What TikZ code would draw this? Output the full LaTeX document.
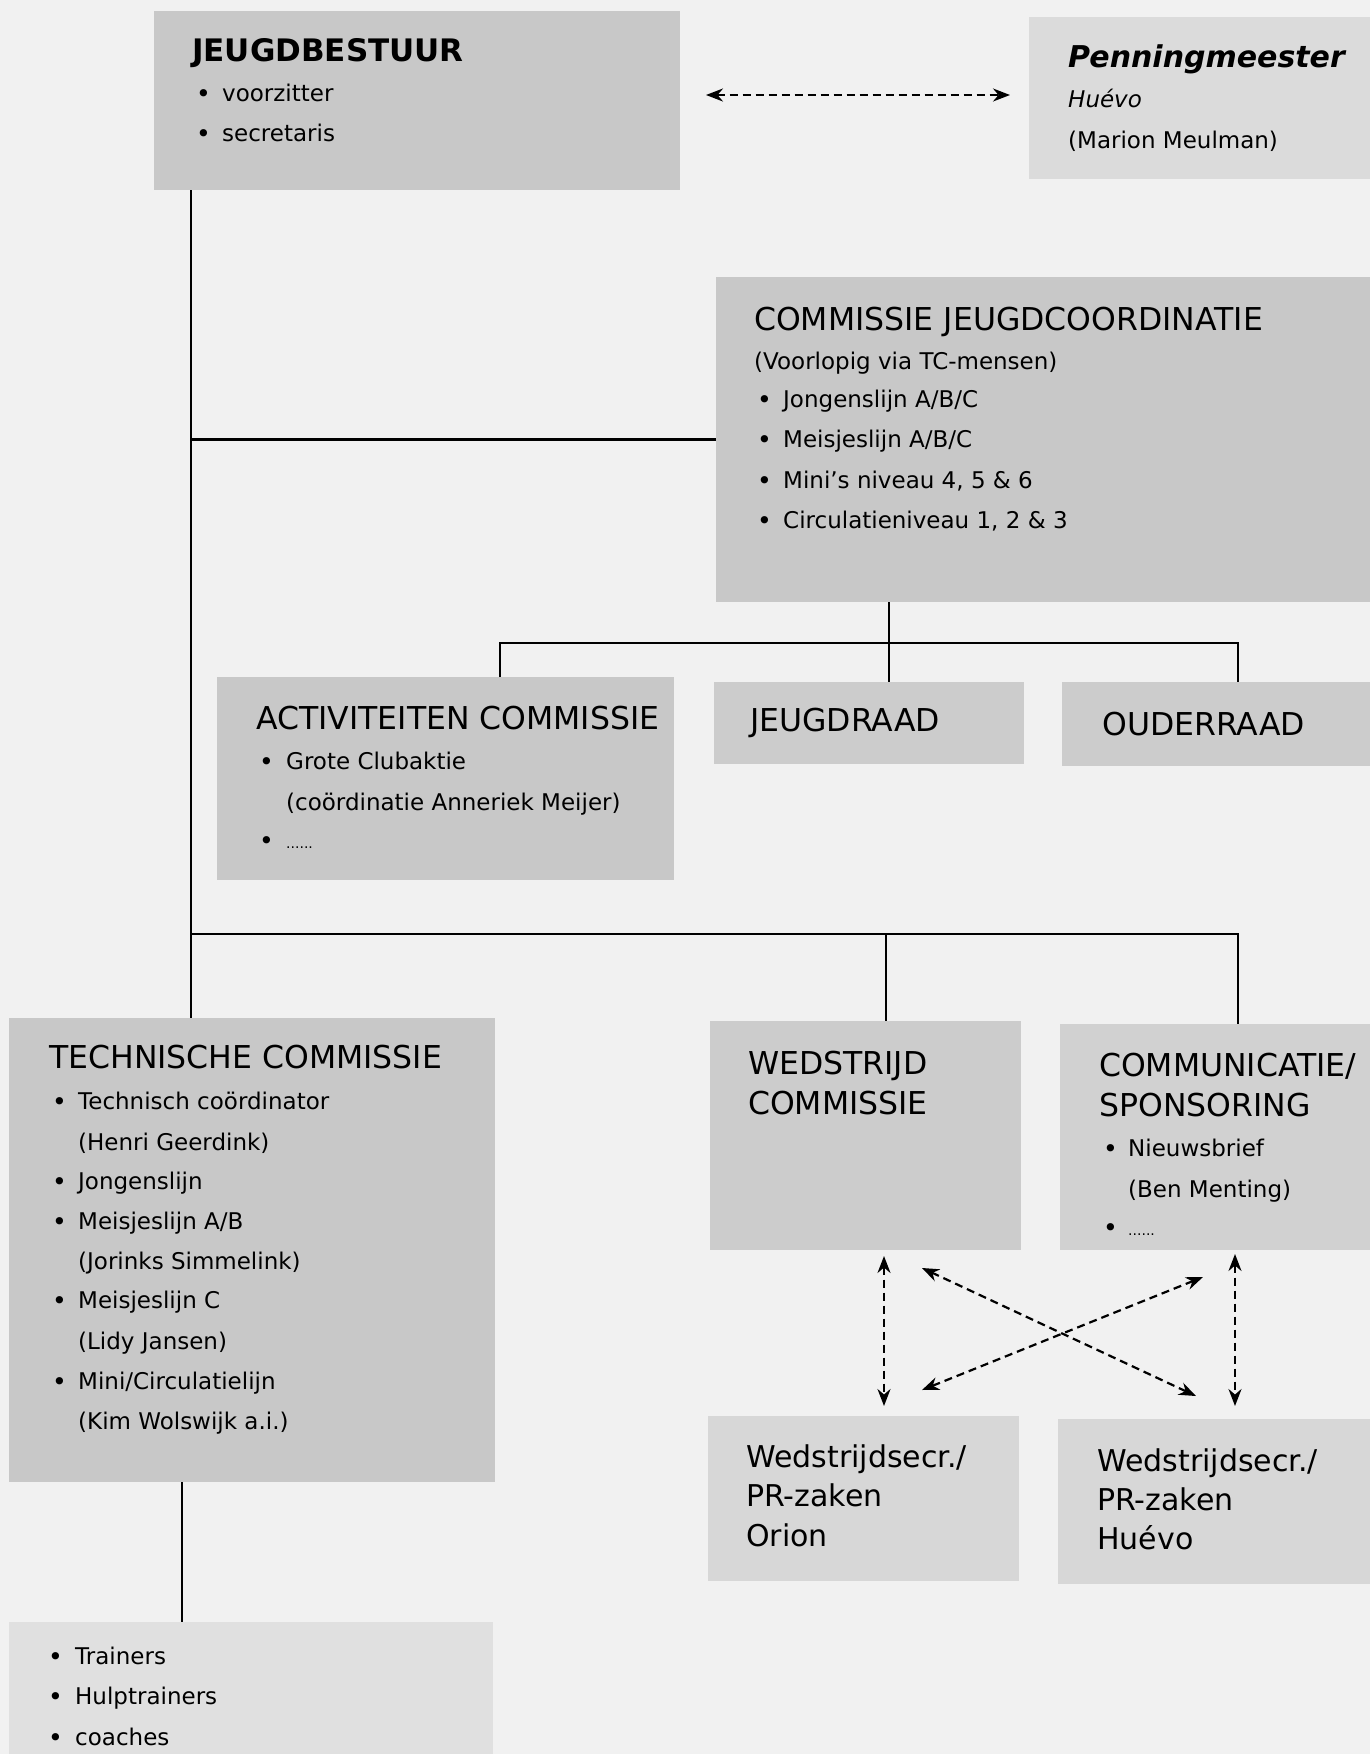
\documentclass[tikz,border=0pt]{standalone}
\usepackage{fontspec}
\setmainfont{DejaVu Sans}
\usetikzlibrary{arrows.meta}
\definecolor{bgc}{gray}{0.945}
\definecolor{gA}{gray}{0.785}
\definecolor{gB}{gray}{0.86}
\definecolor{gC}{gray}{0.80}
\definecolor{gD}{gray}{0.82}
\definecolor{gE}{gray}{0.845}
\definecolor{gF}{gray}{0.88}
\newcommand\itm[1][26pt]{\makebox[#1][l]{\raisebox{-1.5pt}{\fontsize{25}{27}\selectfont •}}}
\begin{document}
\begin{tikzpicture}[x=1pt,y=-1pt,
  box/.style={anchor=north west, inner sep=0pt, outer sep=0pt, draw=none},
  ttl/.style={anchor=base west, inner sep=0pt, font=\fontsize{31.5}{38}\selectfont},
  ttlb/.style={anchor=base west, inner sep=0pt, font=\fontsize{31}{38}\selectfont\bfseries},
  ttlbi/.style={anchor=base west, inner sep=0pt, font=\fontsize{30}{38}\selectfont\bfseries\itshape},
  txt/.style={anchor=base west, inner sep=0pt, font=\fontsize{23}{27}\selectfont},
  txti/.style={anchor=base west, inner sep=0pt, font=\fontsize{23}{27}\selectfont\itshape},
  big/.style={anchor=base west, inner sep=0pt, font=\fontsize{30}{36}\selectfont},
  conn/.style={line width=2.6pt, black},
  dashar/.style={line width=2.2pt, black, dash pattern=on 8pt off 5pt,
     {Stealth[length=17pt,width=13pt]}-{Stealth[length=17pt,width=13pt]}}
]
\useasboundingbox (0,0) rectangle (1370,1754);
\fill[bgc] (0,0) rectangle (1370,1754);

% boxes
\node[box, fill=gA, minimum width=526pt, minimum height=179pt] (jb) at (154,11) {};
\node[box, fill=gB, minimum width=341pt, minimum height=162pt] (pm) at (1029,17) {};
\node[box, fill=gA, minimum width=654pt, minimum height=325pt] (cj) at (716,277) {};
\node[box, fill=gA, minimum width=457pt, minimum height=203pt] (ac) at (217,677) {};
\node[box, fill=gC, minimum width=310pt, minimum height=82pt] (jr) at (714,682) {};
\node[box, fill=gC, minimum width=308pt, minimum height=84pt] (or) at (1062,682) {};
\node[box, fill=gA, minimum width=486pt, minimum height=464pt] (tc) at (9,1018) {};
\node[box, fill=gC, minimum width=311pt, minimum height=229pt] (wc) at (710,1021) {};
\node[box, fill=gD, minimum width=310pt, minimum height=226pt] (cs) at (1060,1024) {};
\node[box, fill=gE, minimum width=311pt, minimum height=165pt] (wo) at (708,1416) {};
\node[box, fill=gE, minimum width=312pt, minimum height=165pt] (wh) at (1058,1419) {};
\node[box, fill=gF, minimum width=484pt, minimum height=132pt] (tr) at (9,1622) {};

% connectors
\coordinate (mx) at (191,0);
\coordinate (h2) at (0,934);
\coordinate (csx) at (1238,934);
\coordinate (wcx) at (886,934);
\coordinate (cjx) at (889,643);
\coordinate (hL) at (500,643);
\coordinate (hR) at (1238,643);
\coordinate (tcx) at (182,0);
\draw[conn] (mx |- jb.south) -- (mx |- tc.north);
\draw[conn] (mx |- cj.west) -- (cj.west);
\draw[conn] (mx |- h2) -- (csx) -- (csx |- cs.north);
\draw[conn] (wcx) -- (wcx |- wc.north);
\draw[conn] (cjx |- cj.south) -- (cjx) -- (cjx |- jr.north);
\draw[conn] (hL |- ac.north) -- (hL) -- (hR) -- (hR |- or.north);
\draw[conn] (tcx |- tc.south) -- (tcx |- tr.north);

% dashed arrows
\coordinate (d1a) at (706,95);
\coordinate (d1b) at (1010,95);
\coordinate (v1a) at (884,1256);
\coordinate (v1b) at (884,1406);
\coordinate (v2a) at (1235,1254);
\coordinate (v2b) at (1235,1406);
\coordinate (x1a) at (922,1268);
\coordinate (x1b) at (1196,1396);
\coordinate (x2a) at (1203,1277);
\coordinate (x2b) at (922,1390);
\draw[dashar] (d1a) -- (d1b);
\draw[dashar] (v1a) -- (v1b);
\draw[dashar] (v2a) -- (v2b);
\draw[dashar] (x1a) -- (x1b);
\draw[dashar] (x2a) -- (x2b);

% JEUGDBESTUUR
\node[ttlb] (jbt) at (192,61) {JEUGDBESTUUR};
\node[txt] (jb1) at (196,101) {\itm voorzitter};
\node[txt] (jb2) at (196,141) {\itm secretaris};

% Penningmeester
\node[ttlbi] (pmt) at (1068,67) {Penningmeester};
\node[txti] (pm1) at (1068,107) {Huévo};
\node[txt] (pm2) at (1068,148) {(Marion Meulman)};

% Commissie jeugdcoordinatie
\node[ttl] (cjt) at (754,330) {COMMISSIE JEUGDCOORDINATIE};
\node[txt] (cj0) at (754,369) {(Voorlopig via TC-mensen)};
\node[txt] (cj1) at (757,407) {\itm[26pt]Jongenslijn A/B/C};
\node[txt] (cj2) at (757,447) {\itm[26pt]Meisjeslijn A/B/C};
\node[txt] (cj3) at (757,488) {\itm[26pt]Mini’s niveau 4, 5 \& 6};
\node[txt] (cj4) at (757,528) {\itm[26pt]Circulatieniveau 1, 2 \& 3};

% Activiteiten commissie
\node[ttl] (act) at (256,729) {ACTIVITEITEN COMMISSIE};
\node[txt] (ac1) at (259,769) {\itm[27pt]Grote Clubaktie};
\node[txt] (ac2) at (286,810) {(coördinatie Anneriek Meijer)};
\node[txt] (ac3) at (259,848) {\itm[27pt]{\fontsize{14}{16}\selectfont ......}};

% Jeugdraad / Ouderraad
\node[ttl] (jrt) at (750,731) {JEUGDRAAD};
\node[ttl] (ort) at (1102,735) {OUDERRAAD};

% Technische commissie
\node[ttl] (tct) at (49,1068) {TECHNISCHE COMMISSIE};
\node[txt] (tc1) at (52,1109) {\itm[26pt]Technisch coördinator};
\node[txt] (tc2) at (78,1150) {(Henri Geerdink)};
\node[txt] (tc3) at (52,1189) {\itm[26pt]Jongenslijn};
\node[txt] (tc4) at (52,1229) {\itm[26pt]Meisjeslijn A/B};
\node[txt] (tc5) at (78,1269) {(Jorinks Simmelink)};
\node[txt] (tc6) at (52,1308) {\itm[26pt]Meisjeslijn C};
\node[txt] (tc7) at (78,1349) {(Lidy Jansen)};
\node[txt] (tc8) at (52,1389) {\itm[26pt]Mini/Circulatielijn};
\node[txt] (tc9) at (78,1429) {(Kim Wolswijk a.i.)};

% Wedstrijd commissie
\node[ttl] (wct1) at (748,1074) {WEDSTRIJD};
\node[ttl] (wct2) at (748,1114) {COMMISSIE};

% Communicatie / sponsoring
\node[ttl] (cst1) at (1099,1076) {COMMUNICATIE/};
\node[ttl] (cst2) at (1099,1116) {SPONSORING};
\node[txt] (cs1) at (1103,1156) {\itm[25pt]Nieuwsbrief};
\node[txt] (cs2) at (1128,1197) {(Ben Menting)};
\node[txt] (cs3) at (1103,1235) {\itm[25pt]{\fontsize{14}{16}\selectfont ......}};

% Wedstrijdsecr boxes
\node[big] (wo1) at (746,1467) {Wedstrijdsecr./};
\node[big] (wo2) at (746,1506) {PR-zaken};
\node[big] (wo3) at (746,1546) {Orion};
\node[big] (wh1) at (1097,1471) {Wedstrijdsecr./};
\node[big] (wh2) at (1097,1510) {PR-zaken};
\node[big] (wh3) at (1097,1549) {Huévo};

% Trainers
\node[txt] (tr1) at (48,1664) {\itm[27pt]Trainers};
\node[txt] (tr2) at (48,1704) {\itm[27pt]Hulptrainers};
\node[txt] (tr3) at (48,1745) {\itm[27pt]coaches};
\end{tikzpicture}
\end{document}
